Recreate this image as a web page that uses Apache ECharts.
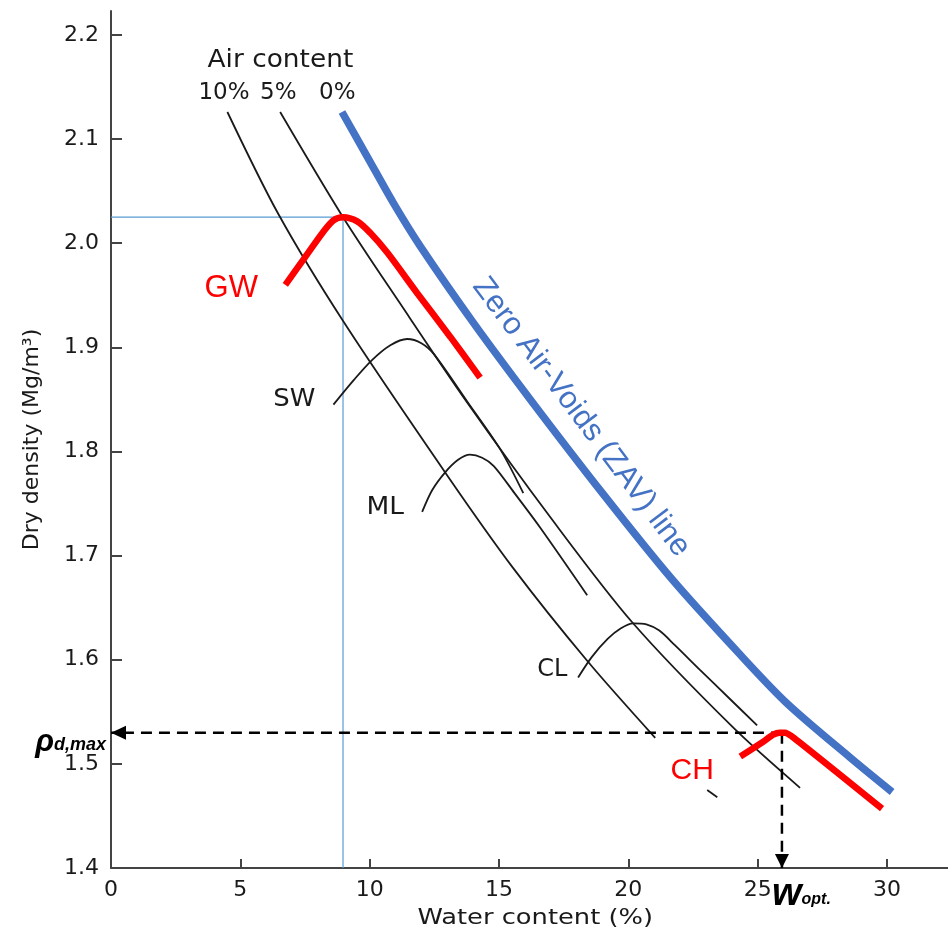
<!DOCTYPE html>
<html><head><meta charset="utf-8">
<script src="https://cdn.jsdelivr.net/npm/echarts@6/dist/echarts.min.js"></script>
<style>html,body{margin:0;padding:0;background:#fff}#c{width:948px;height:930px}</style>
</head><body><div id="c"></div>
<script>
// ---- data ----
const xTicks = [0, 5, 10, 15, 20, 25, 30];
const yTicks = [1.4, 1.5, 1.6, 1.7, 1.8, 1.9, 2.0, 2.1, 2.2];

// Zero air-voids line (0 % air)
const zavLine = [[8.93,2.126],[9.91,2.083],[10.91,2.039],[11.96,1.997],[14.00,1.924],[16.21,1.850],[19.00,1.760],[21.70,1.677],[24.32,1.605],[26.14,1.558],[28.58,1.506],[30.20,1.473]];
// 5 % air content line
const air5 = [[6.54,2.126],[8.97,2.025],[11.18,1.942],[13.77,1.847],[16.98,1.737],[20.15,1.636],[24.05,1.535],[26.64,1.477]];
// 10 % air content line
const air10 = [[4.50,2.126],[6.47,2.028],[8.98,1.925],[13.00,1.777],[15.55,1.688],[18.41,1.599],[21.04,1.525]];

// compaction curves
const gwCurve = [[6.74,1.960],[7.43,1.984],[8.21,2.011],[8.60,2.022],[8.97,2.025],[9.52,2.021],[10.02,2.010],[10.68,1.991],[11.84,1.952],[13.12,1.910],[14.27,1.871]];
const swCurve = [[8.60,1.845],[9.40,1.869],[10.10,1.888],[10.80,1.902],[11.45,1.908],[12.00,1.904],[12.50,1.893],[13.77,1.848],[15.05,1.802],[15.94,1.760]];
const mlCurve = [[12.03,1.742],[12.42,1.763],[12.92,1.780],[13.42,1.792],[13.88,1.797],[14.35,1.794],[14.80,1.786],[15.60,1.760],[16.59,1.727],[18.41,1.662]];
const clCurve = [[18.06,1.583],[18.60,1.603],[19.20,1.620],[19.70,1.630],[20.19,1.635],[20.70,1.634],[21.20,1.628],[21.80,1.614],[22.78,1.590],[23.90,1.563],[24.98,1.537]];
const chCurve = [[24.33,1.507],[25.20,1.521],[25.60,1.528],[25.85,1.530],[26.05,1.530],[26.40,1.525],[29.81,1.457]];
const chStub = [[23.05,1.475],[23.44,1.468]];

// optimum points
const gwOpt = [8.97, 2.025];
const chOpt = [25.94, 1.530];

// text annotations (anchor in data units)
const labels = [
  {text:'Air content', at:[6.55, 2.175], kind:'black', size:24, sx:1.1},
  {text:'10%', at:[4.37, 2.144], kind:'black', size:23, sx:1},
  {text:'5%',  at:[6.47, 2.144], kind:'black', size:23, sx:1},
  {text:'0%',  at:[8.75, 2.144], kind:'black', size:23, sx:1},
  {text:'SW',  at:[7.09, 1.850], kind:'black', size:24, sx:1.08},
  {text:'ML',  at:[10.60, 1.746], kind:'black', size:24, sx:1.1},
  {text:'CL',  at:[17.06, 1.590], kind:'black', size:24, sx:1},
  {text:'GW',  at:[4.65, 1.957], kind:'red', size:31, sx:1},
  {text:'CH',  at:[22.47, 1.493], kind:'red', size:30, sx:1}
];
const zavLabel = {text:'Zero Air-Voids (ZAV) line', at:[18.18, 1.833], angle:-53};
const xTitle = {text:'Water content (%)', atX:16.4};

// ---- chart ----
const chart = echarts.init(document.getElementById('c'), null, {renderer:'canvas'});
const axisColor = '#444';
const txt = '#1a1a1a';
const blackCurve = (d) => ({type:'line', data:d, showSymbol:false, smooth:0.3, lineStyle:{color:'#1a1a1a', width:1.8}, z:3, silent:true});

const option = {
  animation:false,
  backgroundColor:'#fff',
  grid:{left:111, right:0, top:11, bottom:62},
  xAxis:{
    type:'value', min:0, max:32.36,
    axisLine:{onZero:false, lineStyle:{color:axisColor, width:2}},
    axisTick:{inside:true, length:9, customValues:xTicks, lineStyle:{color:axisColor, width:2}},
    axisLabel:{customValues:xTicks, margin:11, fontFamily:'DejaVu Sans', fontSize:22, color:txt},
    splitLine:{show:false}
  },
  yAxis:{
    type:'value', min:1.4, max:2.223,
    axisLine:{show:true, onZero:false, lineStyle:{color:axisColor, width:2}},
    axisTick:{show:true, inside:true, length:11, customValues:yTicks, lineStyle:{color:axisColor, width:2}},
    axisLabel:{customValues:yTicks, margin:12, formatter:(v)=>Number(v).toFixed(1), fontFamily:'DejaVu Sans', fontSize:22, color:txt},
    splitLine:{show:false},
    name:'Dry density (Mg/m³)', nameLocation:'middle', nameGap:68,
    nameTextStyle:{fontFamily:'DejaVu Sans', fontSize:22, color:txt}
  },
  series:[
    {type:'line', data:[[0,gwOpt[1]],[gwOpt[0],gwOpt[1]],[gwOpt[0],1.4]], showSymbol:false, lineStyle:{color:'#5B9BD5', width:1.2}, z:1, silent:true},
    blackCurve(air10),
    blackCurve(air5),
    blackCurve(swCurve),
    blackCurve(mlCurve),
    blackCurve(clCurve),
    blackCurve(chStub),
    {type:'line', data:[[chOpt[0],chOpt[1]],[0,chOpt[1]]], showSymbol:false, lineStyle:{color:'#000', width:2.5, type:[11,7]}, z:4, silent:true},
    {type:'line', data:[[chOpt[0],chOpt[1]],[chOpt[0],1.4]], showSymbol:false, lineStyle:{color:'#000', width:2.5, type:[11,7]}, z:4, silent:true},
    {type:'custom', z:6, silent:true, clip:false,
      data:[[0, chOpt[1], 0],[chOpt[0], 1.4, 1]],
      renderItem:(params, api) => {
        const p = api.coord([api.value(0), api.value(1)]);
        const dir = api.value(2);
        const pts = dir === 0
          ? [[p[0], p[1]], [p[0]+15, p[1]-7], [p[0]+15, p[1]+7]]
          : [[p[0], p[1]], [p[0]-7, p[1]-14], [p[0]+7, p[1]-14]];
        return {type:'polygon', shape:{points:pts}, style:{fill:'#000'}};
      }},
    {type:'line', data:gwCurve, showSymbol:false, smooth:0.3, lineStyle:{color:'#FF0000', width:6.5}, z:5, silent:true},
    {type:'line', data:chCurve, showSymbol:false, smooth:0.2, lineStyle:{color:'#FF0000', width:6.5}, z:5, silent:true},
    {type:'line', data:zavLine, showSymbol:false, smooth:0.3, lineStyle:{color:'#4472C4', width:7.5}, z:5, silent:true}
  ]
};
chart.setOption(option);

// ---- annotations positioned through the axes ----
const toPx = (d) => chart.convertToPixel({gridIndex:0}, d);
const graphics = [];
labels.forEach(l => {
  const p = toPx(l.at);
  const isRed = l.kind === 'red';
  graphics.push({type:'text', x:p[0], y:p[1], scaleX:l.sx, z:10, silent:true, style:{
    text:l.text, align:'center', verticalAlign:'middle',
    font: l.size + 'px ' + (isRed ? '"Liberation Sans", Arial' : '"DejaVu Sans"'),
    fill: isRed ? '#FF0000' : txt
  }});
});
{
  const p = toPx([xTitle.atX, 1.4]);
  graphics.push({type:'text', x:p[0], y:p[1]+50, scaleX:1.17, z:10, silent:true, style:{
    text:xTitle.text, align:'center', verticalAlign:'middle', font:'22px "DejaVu Sans"', fill:txt}});
}
{
  const p = toPx(zavLabel.at);
  graphics.push({type:'text', x:p[0], y:p[1], rotation:zavLabel.angle*Math.PI/180, z:10, silent:true, style:{
    text:zavLabel.text, align:'center', verticalAlign:'middle', font:'31px "Liberation Sans", Arial', fill:'#4472C4'}});
}
{
  const p = toPx([0, chOpt[1]]);
  graphics.push({type:'text', x:p[0]-5, y:p[1]+25, z:10, silent:true, style:{
    text:'{a|ρ}{b|d,max}', align:'right', verticalAlign:'bottom',
    rich:{a:{font:'italic bold 31px "Liberation Sans", Arial', fill:'#000', verticalAlign:'bottom'},
          b:{font:'italic bold 18px "Liberation Sans", Arial', fill:'#000', verticalAlign:'bottom', padding:[0,0,4,0]}}}});
}
{
  const p = toPx([chOpt[0], 1.4]);
  graphics.push({type:'text', x:p[0]-10, y:p[1]+46, z:10, silent:true, style:{
    text:'{a|w}{b|opt.}', align:'left', verticalAlign:'bottom',
    rich:{a:{font:'italic bold 38px "Liberation Sans", Arial', fill:'#000', verticalAlign:'bottom'},
          b:{font:'italic bold 16px "Liberation Sans", Arial', fill:'#000', verticalAlign:'bottom', padding:[0,0,6,0]}}}});
}
chart.setOption({graphic:graphics});
</script>
</body></html>
